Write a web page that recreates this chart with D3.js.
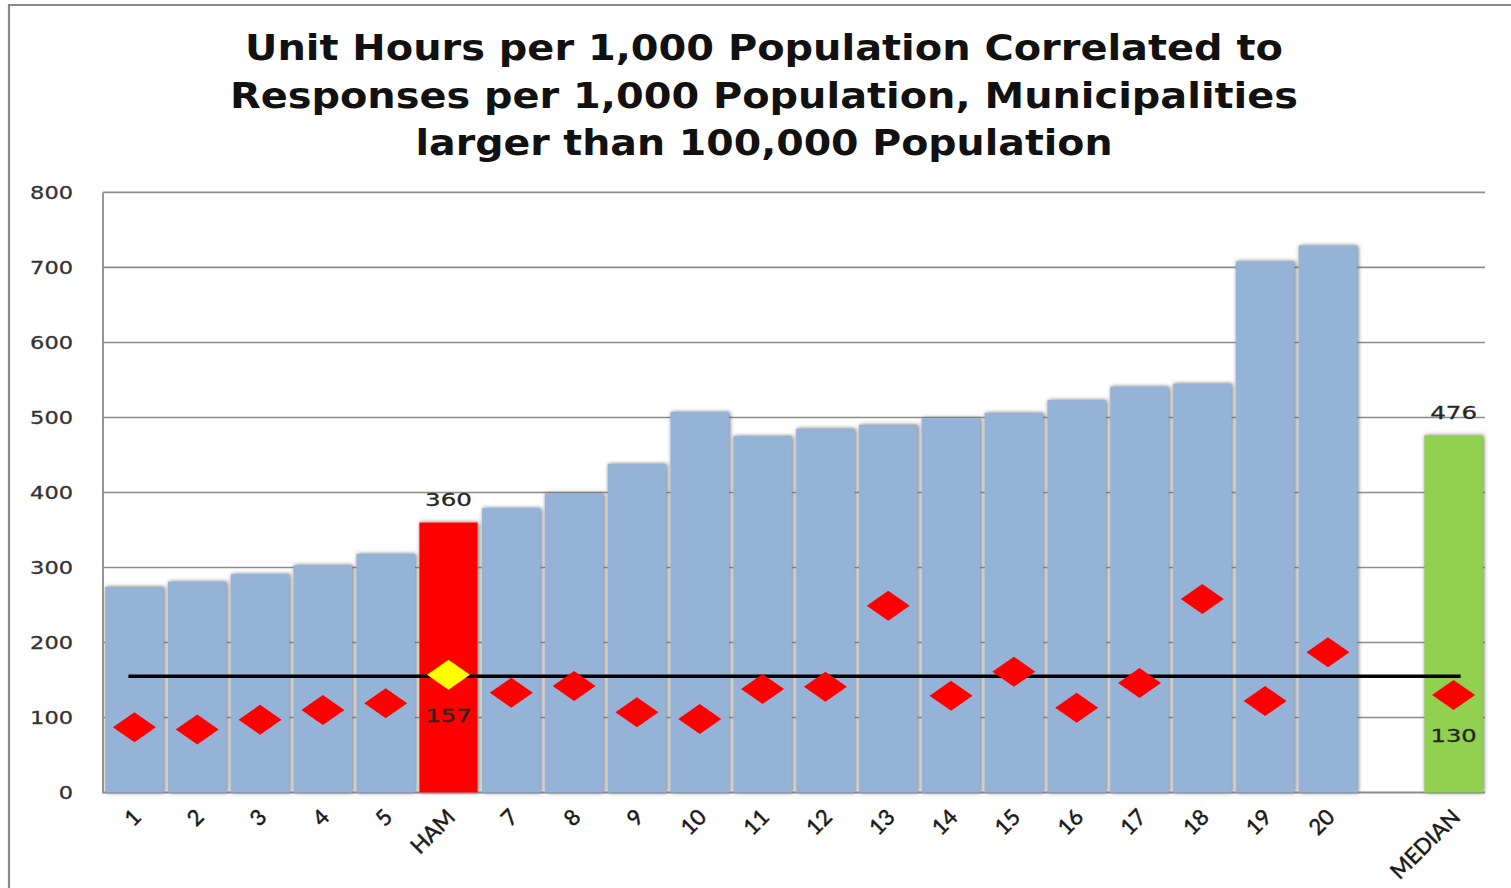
<!DOCTYPE html>
<html>
<head>
<meta charset="utf-8">
<script src="https://cdn.jsdelivr.net/npm/d3@7"></script>
<style>
  body { margin: 0; background: #ffffff; }
  svg { display: block; }
</style>
</head>
<body>
<svg id="chart" width="1511" height="888"></svg>
<script>
// Categories along the x axis (one empty slot separates the cities from the median)
const categories = ["1", "2", "3", "4", "5", "HAM", "7", "8", "9", "10", "11", "12", "13", "14", "15", "16", "17", "18", "19", "20", "", "MEDIAN"];
// Unit hours per 1,000 population (bars)
const unitHours = [274, 281, 291, 303, 318, 360, 379, 399, 438, 507, 475, 485, 490, 499, 506, 523, 541, 545, 708, 729, null, 476];
// Responses per 1,000 population (diamond markers)
const responses = [87, 84, 97, 110, 119, 157, 133, 142, 107, 98, 138, 141, 249, 129, 161, 113, 146, 258, 122, 187, null, 130];
// Y axis ticks
const yTicks = [0, 100, 200, 300, 400, 500, 600, 700, 800];
// Title lines
const titleLines = [
  "Unit Hours per 1,000 Population Correlated to",
  "Responses per 1,000 Population, Municipalities",
  "larger than 100,000 Population"
];
const highlightKey = "HAM";
const medianKey = "MEDIAN";
// Reference line drawn at Hamilton's responses value
const referenceValue = responses[categories.indexOf(highlightKey)];
// Values that carry a printed label
const labelledKeys = [highlightKey, medianKey];

const svg = d3.select("#chart");

const plot = { left: 103, right: 1485, top: 192.4, bottom: 792.5 };

const x = d3.scaleBand()
  .domain(categories)
  .range([plot.left, plot.right])
  .paddingInner(0.07)
  .paddingOuter(0.035);

const y = d3.scaleLinear()
  .domain([0, 800])
  .range([plot.bottom, plot.top]);

const rows = categories.map((c, i) => ({ key: c, hours: unitHours[i], resp: responses[i] }));

// Soft shadow around the columns
const defs = svg.append("defs");
const shadow = defs.append("filter").attr("id", "colShadow")
  .attr("x", "-20%").attr("y", "-5%").attr("width", "140%").attr("height", "110%");
shadow.append("feDropShadow")
  .attr("dx", 1).attr("dy", 0).attr("stdDeviation", 2)
  .attr("flood-color", "#6a6a6a").attr("flood-opacity", 1);
const soft = defs.append("filter").attr("id", "soft");
soft.append("feGaussianBlur").attr("stdDeviation", 0.6);

// Outer frame
svg.append("path")
  .attr("d", "M9,888 V5 H1511")
  .attr("fill", "none")
  .attr("stroke", "#8a8a8a")
  .attr("stroke-width", 2.2)
  .attr("filter", "url(#soft)");

// Title
const title = svg.append("g").attr("font-family", "'DejaVu Sans', Verdana, sans-serif")
  .attr("font-weight", "bold").attr("font-size", 35).attr("fill", "#111");
const titleWidths = [1038, 1068, 697];
titleLines.forEach((t, i) => {
  title.append("text")
    .attr("x", 764)
    .attr("y", 60 + i * 47.5)
    .attr("text-anchor", "middle")
    .attr("textLength", titleWidths[i])
    .attr("lengthAdjust", "spacingAndGlyphs")
    .text(t);
});

// Horizontal gridlines
svg.append("g")
  .selectAll("line")
  .data(yTicks.filter(d => d > 0))
  .join("line")
  .attr("x1", plot.left).attr("x2", plot.right)
  .attr("y1", d => y(d)).attr("y2", d => y(d))
  .attr("stroke", "#8c8c8c")
  .attr("stroke-width", 1.6);

// Axis lines
svg.append("path")
  .attr("d", `M${plot.left},${plot.top} V${plot.bottom} H${plot.right}`)
  .attr("fill", "none")
  .attr("stroke", "#8c8c8c")
  .attr("stroke-width", 1.8);

// Y tick labels
svg.append("g")
  .attr("font-family", "'DejaVu Sans', Verdana, sans-serif")
  .attr("font-size", 18)
  .attr("fill", "#333")
  .attr("stroke", "#333")
  .attr("stroke-width", 0.3)
  .selectAll("text")
  .data(yTicks)
  .join("text")
  .attr("x", 73)
  .attr("y", d => y(d))
  .attr("dy", "0.36em")
  .attr("text-anchor", "end")
  .attr("textLength", d => String(d).length * 14.3)
  .attr("lengthAdjust", "spacingAndGlyphs")
  .text(d => d);

// Columns
const colColor = d => d.key === highlightKey ? "#ff0000" : d.key === medianKey ? "#92d050" : "#95b3d7";
svg.append("g")
  .attr("filter", "url(#colShadow)")
  .selectAll("rect")
  .data(rows.filter(d => d.hours != null))
  .join("rect")
  .attr("x", d => x(d.key))
  .attr("width", x.bandwidth())
  .attr("y", d => y(d.hours))
  .attr("height", d => y(0) - y(d.hours))
  .attr("fill", colColor);

// Reference line across the chart at the highlighted responses value
const lineStart = x(categories[0]) + x.bandwidth() / 2 - 6;
const lineEnd = x(medianKey) + x.bandwidth() / 2 + 7;
svg.append("line")
  .attr("x1", lineStart).attr("x2", lineEnd)
  .attr("y1", y(referenceValue) + 1.5).attr("y2", y(referenceValue) + 1.5)
  .attr("stroke", "#000")
  .attr("stroke-width", 3.4);

// Diamond markers for responses
const diamond = "M0,-15 L21.5,0 L0,15 L-21.5,0 Z";
svg.append("g")
  .selectAll("path")
  .data(rows.filter(d => d.resp != null))
  .join("path")
  .attr("d", diamond)
  .attr("transform", d => `translate(${x(d.key) + x.bandwidth() / 2},${y(d.resp)})`)
  .attr("fill", d => d.key === highlightKey ? "#ffff00" : "#ff0000")
  .attr("filter", "url(#soft)");

// Value labels for the highlighted city and the median
const lbl = svg.append("g")
  .attr("font-family", "'DejaVu Sans', Verdana, sans-serif")
  .attr("font-size", 18)
  .attr("fill", "#262626")
  .attr("stroke", "#262626")
  .attr("stroke-width", 0.3);
rows.filter(d => labelledKeys.includes(d.key)).forEach(d => {
  const cx = x(d.key) + x.bandwidth() / 2;
  lbl.append("text")
    .attr("x", cx).attr("y", y(d.hours) - 16)
    .attr("text-anchor", "middle")
    .attr("textLength", String(d.hours).length * 15.6)
    .attr("lengthAdjust", "spacingAndGlyphs")
    .text(d.hours);
  lbl.append("text")
    .attr("x", cx).attr("y", y(d.resp) + 47)
    .attr("text-anchor", "middle")
    .attr("textLength", String(d.resp).length * 15.4)
    .attr("lengthAdjust", "spacingAndGlyphs")
    .text(d.resp);
});

// Rotated category labels
svg.append("g")
  .attr("font-family", "Lato, 'Open Sans', sans-serif")
  .attr("font-size", 22)
  .attr("fill", "#1a1a1a")
  .attr("stroke", "#1a1a1a")
  .attr("stroke-width", 0.5)
  .selectAll("text")
  .data(categories)
  .join("text")
  .attr("text-anchor", "end")
  .attr("transform", d => `translate(${x(d) + x.bandwidth() / 2 + 8},${plot.bottom + 26}) rotate(-45)`)
  .text(d => d);
</script>
</body>
</html>
